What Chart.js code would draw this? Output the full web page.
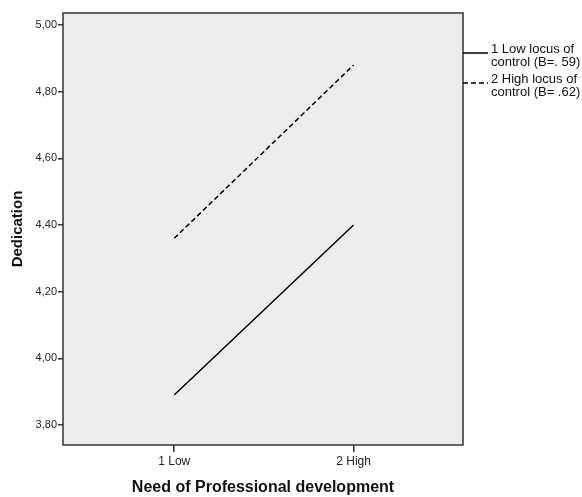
<!DOCTYPE html>
<html>
<head>
<meta charset="utf-8">
<script src="https://cdn.jsdelivr.net/npm/chart.js@4"></script>
<style>
  html, body { margin: 0; padding: 0; background: #fff; }
  #wrap { width: 582px; height: 497px; }
</style>
</head>
<body>
<div id="wrap"><canvas id="chart" width="582" height="497"></canvas></div>
<script>
const xPositions = [1, 2];
const xLabels = ["1 Low", "2 High"];
const lowLocus = [3.89, 4.40];
const highLocus = [4.36, 4.88];
const yTicks = [3.8, 4.0, 4.2, 4.4, 4.6, 4.8, 5.0];
const legendLines = [
  ["1 Low locus of", "control (B=. 59)"],
  ["2 High locus of", "control (B= .62)"],
];

function points(values) {
  return values.map((v, i) => ({ x: xPositions[i], y: v }));
}

const plotBox = {
  id: "plotBox",
  beforeDraw(chart) {
    const a = chart.chartArea;
    const ctx = chart.ctx;
    ctx.save();
    ctx.fillStyle = "#ececec";
    ctx.fillRect(a.left, a.top, a.right - a.left, a.bottom - a.top);
    ctx.restore();
  },
  afterDraw(chart) {
    const a = chart.chartArea;
    const ctx = chart.ctx;
    ctx.save();
    ctx.strokeStyle = "#333";
    ctx.lineWidth = 1.5;
    ctx.strokeRect(a.left, a.top, a.right - a.left, a.bottom - a.top);

    // legend on the right
    ctx.font = "13px 'Liberation Sans', Arial, sans-serif";
    ctx.fillStyle = "#111";
    ctx.textBaseline = "middle";
    const rows = [53, 83];
    chart.data.datasets.forEach((ds, i) => {
      const y = rows[i];
      ctx.beginPath();
      ctx.strokeStyle = "#000";
      ctx.lineWidth = 1.5;
      ctx.setLineDash(ds.borderDash || []);
      ctx.moveTo(a.right, y);
      ctx.lineTo(a.right + 25, y);
      ctx.stroke();
      ctx.setLineDash([]);
      ctx.fillText(legendLines[i][0], a.right + 28, y - 4);
      ctx.fillText(legendLines[i][1], a.right + 28, y + 9);
    });
    ctx.restore();
  },
};

new Chart(document.getElementById("chart"), {
  type: "line",
  data: {
    datasets: [
      {
        label: legendLines[0].join(" "),
        data: points(lowLocus),
        borderColor: "#000",
        borderWidth: 1.5,
        pointRadius: 0,
        fill: false,
      },
      {
        label: legendLines[1].join(" "),
        data: points(highLocus),
        borderColor: "#000",
        borderWidth: 1.5,
        borderDash: [5, 3],
        pointRadius: 0,
        fill: false,
      },
    ],
  },
  options: {
    responsive: false,
    animation: false,
    layout: { padding: { top: 13, right: 119, left: 0, bottom: 0 } },
    plugins: { legend: { display: false }, tooltip: { enabled: false } },
    scales: {
      x: {
        type: "linear",
        min: 0.38,
        max: 2.61,
        afterBuildTicks(scale) {
          scale.ticks = xPositions.map((v) => ({ value: v }));
        },
        afterFit(scale) {
          scale.height = 52;
        },
        ticks: {
          color: "#222",
          font: { family: "'Liberation Sans', Arial, sans-serif", size: 12 },
          padding: 2,
          maxRotation: 0,
          callback: (v) => xLabels[xPositions.indexOf(v)],
        },
        grid: { drawOnChartArea: false, drawTicks: true, tickLength: 7, color: "#333", lineWidth: 1.5 },
        border: { display: false },
        title: {
          display: true,
          text: "Need of Professional development",
          color: "#111",
          font: { family: "'Liberation Sans', Arial, sans-serif", size: 16, weight: "bold" },
          padding: { top: 0, bottom: 0 },
        },
      },
      y: {
        min: 3.74,
        max: 5.036,
        afterBuildTicks(scale) {
          scale.ticks = yTicks.map((v) => ({ value: v }));
        },
        afterFit(scale) {
          scale.width = 63;
        },
        ticks: {
          color: "#222",
          font: { family: "'Liberation Sans', Arial, sans-serif", size: 11 },
          padding: 1,
          callback: (v) => v.toFixed(2).replace(".", ","),
        },
        grid: { drawOnChartArea: false, drawTicks: true, tickLength: 5, color: "#333", lineWidth: 1.5 },
        border: { display: false },
        title: {
          display: true,
          text: "Dedication",
          color: "#111",
          font: { family: "'Liberation Sans', Arial, sans-serif", size: 15, weight: "bold" },
          padding: { top: 9, bottom: 0 },
        },
      },
    },
  },
  plugins: [plotBox],
});
</script>
</body>
</html>
